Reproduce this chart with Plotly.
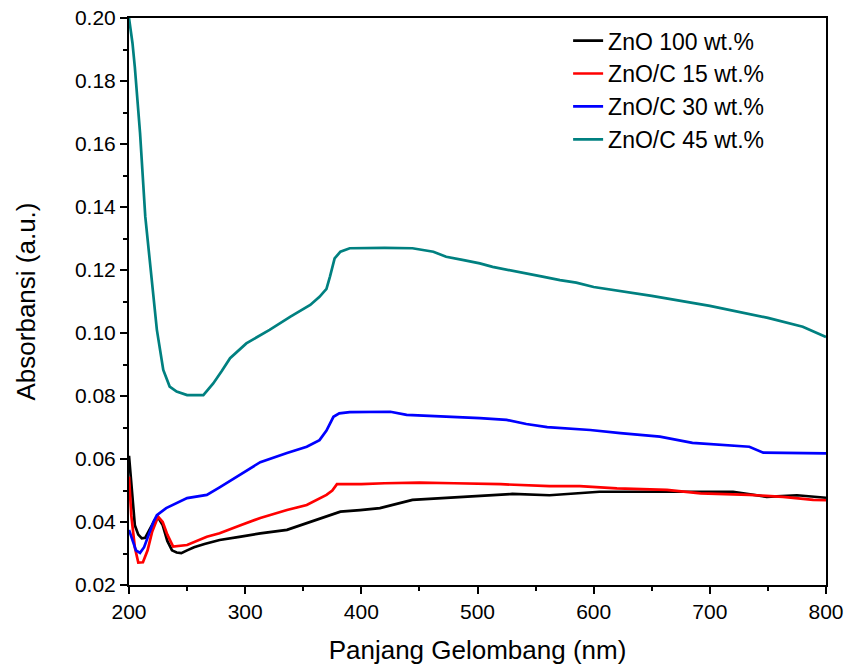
import plotly.graph_objects as go

# ZnO 100 wt.%
x_zno100 = [200, 203, 205, 208, 211, 214, 218, 222, 225, 229, 233, 237, 241, 245, 250, 256, 265, 278, 295, 313, 336, 353, 370, 382, 399, 416, 444, 487, 530, 562, 588, 605, 663, 692, 720, 749, 775, 800]
y_zno100 = [0.061, 0.046, 0.039, 0.036, 0.0348, 0.035, 0.038, 0.0405, 0.0415, 0.039, 0.034, 0.031, 0.0303, 0.0301, 0.031, 0.032, 0.033, 0.0343, 0.0353, 0.0364, 0.0375, 0.0396, 0.0417, 0.0433, 0.0438, 0.0444, 0.047, 0.048, 0.0489, 0.0485, 0.0493, 0.0496, 0.0496, 0.0496, 0.0496, 0.048, 0.0485, 0.0477]

# ZnO/C 15 wt.%
x_c15 = [200, 202, 205, 208, 212, 216, 220, 225, 229, 233, 238, 245, 250, 267, 278, 296, 313, 336, 353, 370, 375, 379, 400, 420, 450, 480, 520, 562, 588, 620, 663, 692, 734, 763, 789, 800]
y_c15 = [0.0544, 0.042, 0.032, 0.0271, 0.0272, 0.031, 0.037, 0.0417, 0.040, 0.036, 0.0322, 0.0325, 0.0327, 0.0353, 0.0364, 0.039, 0.0413, 0.0438, 0.0454, 0.0486, 0.050, 0.052, 0.052, 0.0523, 0.0525, 0.0523, 0.052, 0.0514, 0.0514, 0.0507, 0.0502, 0.0491, 0.0486, 0.048, 0.047, 0.0469]

# ZnO/C 30 wt.%
x_c30 = [200, 203, 206, 209.5, 213, 217, 221, 224, 232, 250, 267, 278, 295, 313, 336, 353, 364, 370, 376, 381, 390, 425, 439, 480, 502, 525, 542, 560, 597, 623, 657, 685, 734, 746, 770, 800]
y_c30 = [0.0375, 0.034, 0.031, 0.0302, 0.032, 0.036, 0.040, 0.0422, 0.0444, 0.0476, 0.0486, 0.051, 0.0549, 0.059, 0.0619, 0.0639, 0.066, 0.069, 0.0734, 0.0745, 0.0749, 0.075, 0.074, 0.0735, 0.073, 0.0724, 0.0711, 0.0701, 0.0692, 0.0682, 0.0671, 0.0651, 0.0639, 0.062, 0.062, 0.0618]

# ZnO/C 45 wt.%
x_c45 = [200, 203, 205, 209.5, 214, 219.5, 224, 229.5, 235, 241, 250, 264, 272.5, 280, 287, 301, 321, 339, 356, 364, 370, 373, 377, 382, 390, 420, 444, 462, 473, 487, 502, 513, 528, 542, 556, 571, 585, 600, 650, 700, 750, 780, 800]
y_c45 = [0.200, 0.192, 0.1845, 0.1635, 0.137, 0.1168, 0.101, 0.0883, 0.083, 0.0814, 0.0803, 0.0803, 0.084, 0.088, 0.092, 0.0967, 0.101, 0.1052, 0.1089, 0.1115, 0.114, 0.1179, 0.1237, 0.1258, 0.1269, 0.1270, 0.1269, 0.1258, 0.1242, 0.1232, 0.1221, 0.121, 0.120, 0.1189, 0.1179, 0.1168, 0.116, 0.1146, 0.1118, 0.1086, 0.1048, 0.102, 0.0987]

series = [
    ("ZnO 100 wt.%", x_zno100, y_zno100, "#000000"),
    ("ZnO/C 15 wt.%", x_c15, y_c15, "#FF0000"),
    ("ZnO/C 30 wt.%", x_c30, y_c30, "#0000FF"),
    ("ZnO/C 45 wt.%", x_c45, y_c45, "#008080"),
]

x_ticks = [200, 300, 400, 500, 600, 700, 800]
y_ticks = [0.02, 0.04, 0.06, 0.08, 0.10, 0.12, 0.14, 0.16, 0.18, 0.20]

fig = go.Figure()
for i, (name, xs, ys, col) in enumerate(series):
    fig.add_trace(go.Scatter(x=xs, y=ys, mode="lines", name=name,
                             legendgroup=str(i),
                             line=dict(color=col, width=2.7)))

font_family = "Arial, Liberation Sans, sans-serif"
fig.update_layout(
    width=845, height=669,
    margin=dict(l=129, r=19, t=18, b=84),
    paper_bgcolor="white", plot_bgcolor="white",
    font=dict(family=font_family, color="black"),
    showlegend=True,
    legend=dict(x=0.63, y=0.998, xanchor="left", yanchor="top",
                font=dict(size=23, family=font_family),
                bgcolor="rgba(0,0,0,0)", tracegroupgap=0,
                traceorder="normal"),
)
fig.update_xaxes(
    range=[200, 800], tickvals=x_ticks, ticktext=[str(v) for v in x_ticks],
    showgrid=False, zeroline=False, automargin=False,
    showline=True, linecolor="black", linewidth=2, mirror=True,
    ticks="outside", ticklen=7, tickwidth=2, tickcolor="black",
    minor=dict(dtick=50, ticks="outside", ticklen=4, tickwidth=2, tickcolor="black"),
    tickfont=dict(size=21, family=font_family),
    title=dict(text="Panjang Gelombang (nm)", font=dict(size=26, family=font_family), standoff=19),
)
fig.update_yaxes(
    range=[0.02, 0.20], tickvals=y_ticks, ticktext=["%.2f" % v for v in y_ticks],
    showgrid=False, zeroline=False, automargin=False,
    showline=True, linecolor="black", linewidth=2, mirror=True,
    ticks="outside", ticklen=7, tickwidth=2, tickcolor="black",
    minor=dict(dtick=0.01, tick0=0.02, ticks="outside", ticklen=4, tickwidth=2, tickcolor="black"),
    tickfont=dict(size=21, family=font_family),
    title=dict(text="Absorbansi (a.u.)", font=dict(size=26, family=font_family), standoff=32),
)

fig.write_html("out.html", config={"displayModeBar": False},
               post_script="document.body.style.margin='0';")
